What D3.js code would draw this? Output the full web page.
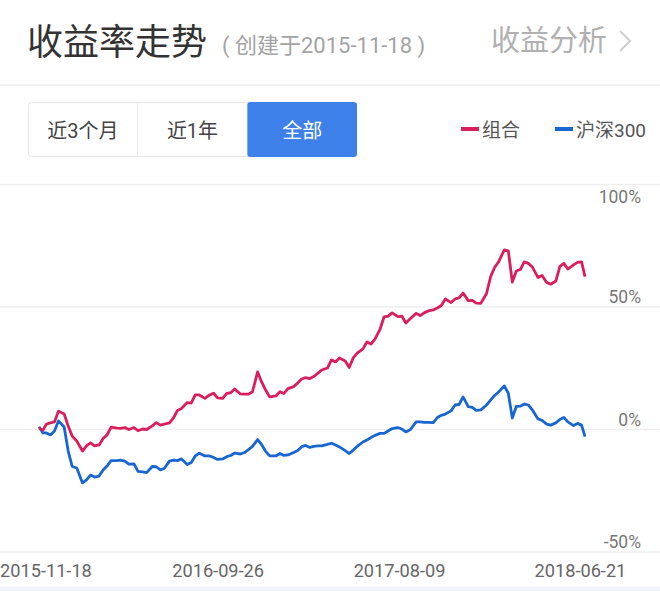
<!DOCTYPE html>
<meta charset="utf-8">
<script src="https://d3js.org/d3.v7.min.js"></script>
<style>
  body { margin: 0; background: #fff; }
  svg { display: block; font-family: Roboto, "Noto Sans CJK SC", sans-serif; }
</style>
<div id="chart"></div>
<script>
// dates of the sampled points (roughly weekly)
const dates = [
  "2015-11-18","2015-11-25","2015-12-01","2015-12-08","2015-12-15","2015-12-22","2016-01-01","2016-01-08","2016-01-15","2016-01-23",
  "2016-02-02","2016-02-09","2016-02-16","2016-02-23","2016-03-02","2016-03-09","2016-03-16","2016-03-23","2016-04-02","2016-04-09",
  "2016-04-16","2016-04-23","2016-05-02","2016-05-09","2016-05-17","2016-05-24","2016-06-03","2016-06-10","2016-06-17","2016-06-24",
  "2016-07-03","2016-07-10","2016-07-17","2016-07-24","2016-08-03","2016-08-10","2016-08-17","2016-08-24","2016-09-03","2016-09-11",
  "2016-09-18","2016-09-25","2016-10-04","2016-10-11","2016-10-18","2016-10-25","2016-11-04","2016-11-11","2016-11-18","2016-11-25",
  "2016-12-04","2016-12-11","2016-12-18","2016-12-25","2017-01-05","2017-01-12","2017-01-19","2017-01-26","2017-02-05","2017-02-12",
  "2017-02-19","2017-02-26","2017-03-05","2017-03-12","2017-03-19","2017-03-26","2017-04-05","2017-04-12","2017-04-19","2017-04-26",
  "2017-05-06","2017-05-13","2017-05-20","2017-05-27","2017-06-06","2017-06-13","2017-06-20","2017-06-27","2017-07-06","2017-07-13",
  "2017-07-20","2017-07-27","2017-08-06","2017-08-13","2017-08-20","2017-08-28","2017-09-07","2017-09-14","2017-09-21","2017-09-28",
  "2017-10-07","2017-10-14","2017-10-21","2017-10-28","2017-11-07","2017-11-14","2017-11-21","2017-11-28","2017-12-07","2017-12-14",
  "2017-12-21","2017-12-29","2018-01-08","2018-01-15","2018-01-22","2018-01-29","2018-02-08","2018-02-15","2018-02-22","2018-03-01",
  "2018-03-08","2018-03-15","2018-03-22","2018-03-29","2018-04-08","2018-04-15","2018-04-23","2018-04-30","2018-05-09","2018-05-16",
  "2018-05-23","2018-05-30","2018-06-09","2018-06-16","2018-06-23","2018-06-29"
];

// 组合 (portfolio) return, %
const portfolio = [
  0.5, -0.2, 2.2, 2.7, 3.1, 7.5, 6.3, 1.4, -2.7, -4.7,
  -8.8, -6.7, -5.5, -6.7, -6.3, -3.7, -2.2, 1.0, 0.6, 0.5,
  0.8, 0.0, 0.8, -0.5, 0.2, 0.0, 1.5, 2.8, 1.8, 2.2,
  2.7, 4.7, 7.8, 8.6, 11.0, 10.8, 14.1, 14.1, 12.7, 14.1,
  14.8, 12.9, 12.7, 14.7, 15.0, 16.5, 14.5, 14.4, 14.4, 15.4,
  23.5, 19.4, 16.1, 13.3, 13.7, 15.4, 14.7, 16.7, 17.5, 19.0,
  20.6, 21.2, 20.8, 21.6, 22.9, 24.3, 25.1, 28.4, 27.6, 29.2,
  28.0, 25.3, 29.2, 31.2, 32.9, 35.7, 34.9, 36.9, 41.0, 46.0,
  46.3, 47.6, 46.1, 46.3, 43.5, 45.3, 47.4, 46.5, 47.6, 48.4,
  48.8, 49.6, 50.6, 53.3, 51.8, 53.3, 53.7, 55.7, 52.6, 52.7,
  51.6, 51.5, 55.5, 62.3, 66.1, 68.4, 73.3, 72.9, 60.2, 64.7,
  65.3, 68.4, 67.8, 66.3, 62.0, 62.9, 60.0, 59.3, 60.6, 66.5,
  67.8, 65.5, 67.2, 68.2, 68.4, 62.4
];

// 沪深300 return, %
const hs300 = [
  1.1, -1.4, -1.4, -2.2, -0.6, 3.5, 1.0, -8.8, -15.1, -15.7,
  -21.8, -20.6, -18.6, -19.4, -19.0, -16.5, -14.9, -12.7, -12.7, -12.5,
  -12.9, -14.1, -14.0, -17.1, -17.3, -17.6, -15.1, -15.2, -16.5, -15.8,
  -12.9, -12.5, -12.7, -12.0, -14.3, -13.5, -10.8, -9.7, -10.8, -10.8,
  -11.4, -12.2, -12.0, -11.1, -10.6, -9.6, -10.0, -9.4, -8.2, -6.9,
  -4.1, -6.2, -8.9, -10.8, -10.8, -9.8, -10.6, -10.4, -9.4, -8.6,
  -7.0, -6.5, -7.3, -6.9, -6.7, -6.7, -6.1, -5.6, -6.3, -7.1,
  -8.6, -9.8, -8.4, -6.9, -5.1, -4.3, -3.3, -2.4, -1.6, -1.6,
  -0.6, 0.4, 0.8, 0.2, -1.0, 0.0, 3.1, 3.1, 2.9, 2.9,
  2.8, 4.9, 5.8, 6.3, 7.6, 10.0, 10.2, 13.3, 9.3, 9.0,
  7.8, 8.0, 10.0, 12.0, 13.9, 15.3, 17.8, 14.8, 4.7, 9.4,
  9.5, 10.4, 10.0, 8.0, 4.3, 3.7, 2.2, 1.8, 2.7, 4.1,
  4.9, 3.1, 1.6, 2.5, 1.8, -2.9
];

const yTicks = [100, 50, 0, -50];
const xTickLabels = ["2015-11-18", "2016-09-26", "2017-08-09", "2018-06-21"];
const periods = ["近3个月", "近1年", "全部"];
const seriesNames = ["组合", "沪深300"];

const width = 660, height = 591;
const red = "#d91e5b", blue = "#1766d1";

const svg = d3.select("#chart")
  .append("svg")
    .attr("width", width)
    .attr("height", height);

// header
svg.append("text")
  .attr("x", 27).attr("y", 55)
  .attr("font-size", 36).attr("fill", "#333")
  .text("收益率走势");
svg.append("text")
  .attr("x", 222).attr("y", 53)
  .attr("font-size", 22).attr("fill", "#a3a3a3")
  .text("( 创建于2015-11-18 )");
svg.append("text")
  .attr("x", 607).attr("y", 51)
  .attr("text-anchor", "end")
  .attr("font-size", 29).attr("fill", "#b0b0b0")
  .text("收益分析");
svg.append("path")
  .attr("d", "M620,31 L630,41 L620,51")
  .attr("fill", "none").attr("stroke", "#cfcfcf").attr("stroke-width", 2);

svg.append("rect")
  .attr("x", 0).attr("y", 84).attr("width", width).attr("height", 2)
  .attr("fill", "#f2f2f2");

// period buttons
const btnX = d3.scaleBand().domain(periods).range([28, 357]);
const btn = svg.append("g");
btn.append("rect")
  .attr("x", 28.5).attr("y", 102.5).attr("width", 328).attr("height", 54)
  .attr("rx", 3).attr("fill", "#fff").attr("stroke", "#e6e6e6");
btn.append("rect")
  .attr("x", btnX("全部")).attr("y", 102).attr("width", btnX.bandwidth()).attr("height", 55)
  .attr("rx", 3).attr("fill", "#3d80ea");
btn.append("line")
  .attr("x1", btnX("近1年")).attr("x2", btnX("近1年"))
  .attr("y1", 103).attr("y2", 156)
  .attr("stroke", "#e6e6e6");
btn.selectAll("text.p")
  .data(periods)
  .join("text")
    .attr("x", d => btnX(d) + btnX.bandwidth() / 2)
    .attr("y", 138)
    .attr("text-anchor", "middle")
    .attr("font-size", 20)
    .attr("fill", d => d === "全部" ? "#fff" : "#444")
    .text(d => d);

// legend
const legend = svg.append("g");
const legendX = [461, 555];
[red, blue].forEach((c, i) => {
  legend.append("line")
    .attr("x1", legendX[i]).attr("x2", legendX[i] + 18)
    .attr("y1", 129).attr("y2", 129)
    .attr("stroke", c).attr("stroke-width", 4);
  legend.append("text")
    .attr("x", legendX[i] + 21).attr("y", 137)
    .attr("font-size", 19).attr("fill", "#555")
    .text(seriesNames[i]);
});

// scales
const parse = d3.timeParse("%Y-%m-%d");
const x = d3.scaleTime()
  .domain([parse("2015-11-18"), parse("2018-06-29")])
  .range([39, 585]);
const y = d3.scaleLinear()
  .domain([-50, 100])
  .range([552, 184.5]);

// grid + y labels
svg.append("g").selectAll("line")
  .data(yTicks)
  .join("line")
    .attr("x1", 0).attr("x2", width)
    .attr("y1", d => y(d)).attr("y2", d => y(d))
    .attr("stroke", "#eeeeee").attr("stroke-width", 1.5);
svg.append("g").selectAll("text")
  .data(yTicks)
  .join("text")
    .attr("x", 641)
    .attr("y", (d, i) => i === 0 ? y(d) + 18 : y(d) - 4)
    .attr("text-anchor", "end")
    .attr("font-size", 17.5).attr("fill", "#777")
    .text(d => d + "%");

// x labels
svg.append("g").selectAll("text")
  .data(xTickLabels)
  .join("text")
    .attr("x", (d, i) => i === 0 ? 0 : x(parse(d)))
    .attr("y", 577)
    .attr("text-anchor", (d, i) => i === 0 ? "start" : "middle")
    .attr("font-size", 18.2).attr("fill", "#666")
    .text(d => d);

svg.append("rect")
  .attr("x", 0).attr("y", 587).attr("width", width).attr("height", 4)
  .attr("fill", "#f1f3fa");

// lines
const line = d3.line()
  .x((d, i) => x(parse(dates[i])))
  .y(d => y(d));

svg.append("path")
  .datum(hs300)
  .attr("fill", "none").attr("stroke", blue)
  .attr("stroke-width", 2.8).attr("stroke-linejoin", "round")
  .attr("d", line);
svg.append("path")
  .datum(portfolio)
  .attr("fill", "none").attr("stroke", red)
  .attr("stroke-width", 2.8).attr("stroke-linejoin", "round")
  .attr("d", line);
</script>
